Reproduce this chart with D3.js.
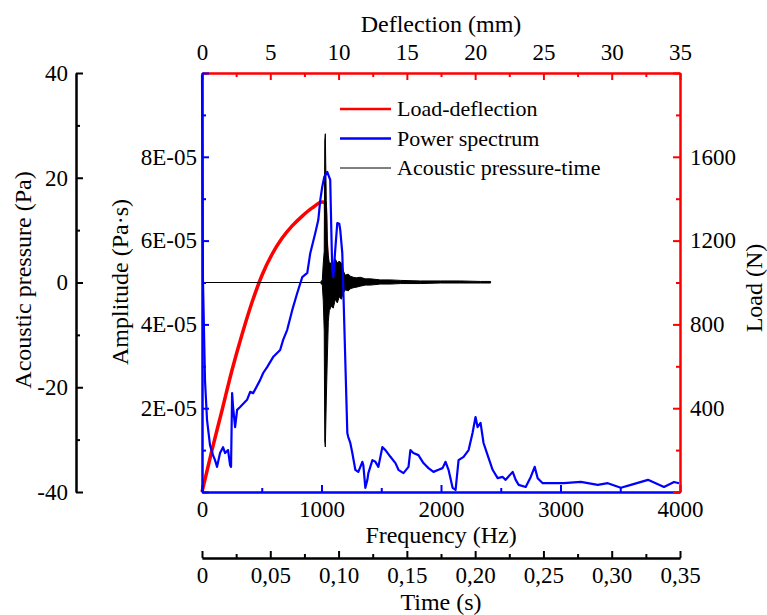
<!DOCTYPE html>
<meta charset="utf-8">
<style>
body {
    margin: 0px;
    background: white;
    overflow: hidden;
}
text {
  font-family: "Liberation Serif", "Times New Roman", serif;
  fill: black;
}
</style>
<body>
<script src="https://d3js.org/d3.v7.min.js"></script>
<script>
// load-deflection curve (mm, N)
var deflection = [0, 0.73, 1.47, 2.20, 2.94, 3.67, 4.40, 5.14, 5.87, 6.60, 7.34, 8.07, 8.81, 9.03, 9.10, 9.17, 9.32];
var load = [0, 200, 391, 582, 754, 907, 1036, 1136, 1212, 1270, 1317, 1356, 1384, 1380, 1203, 1069, 1050];

// power spectrum (Hz, Pa.s)
var frequency = [0, 8, 25, 42, 67, 92, 109, 126, 151, 176, 193, 218, 235, 243, 252, 260, 277, 294, 319, 377,
  403, 428, 486, 512, 545, 595, 654, 679, 713, 755, 797, 839, 881, 906, 948, 973, 990, 1006, 1023, 1048,
  1073, 1082, 1090, 1099, 1115, 1132, 1149, 1157, 1174, 1182, 1199, 1216, 1224, 1241, 1258, 1283, 1308, 1342, 1350, 1367,
  1384, 1392, 1426, 1451, 1476, 1509, 1535, 1577, 1619, 1644, 1686, 1728, 1744, 1769, 1811, 1853, 1895, 1937, 1979, 2013,
  2038, 2063, 2097, 2122, 2147, 2189, 2231, 2264, 2289, 2306, 2331, 2356, 2390, 2432, 2474, 2516, 2541, 2600, 2625, 2650,
  2709, 2751, 2784, 2809, 2851, 2893, 3027, 3170, 3312, 3396, 3505, 3589, 3732, 3866, 3950, 3992];
var amplitude = [9.95e-5, 5.06e-5, 2.67e-5, 1.72e-5, 1.12e-5, 0.88e-5, 0.76e-5, 0.60e-5, 0.93e-5, 1.07e-5, 0.93e-5, 1.00e-5, 0.64e-5, 0.60e-5, 2.36e-5, 2.03e-5, 1.55e-5, 1.96e-5, 2.03e-5, 2.20e-5,
  2.39e-5, 2.36e-5, 2.67e-5, 2.84e-5, 2.98e-5, 3.22e-5, 3.39e-5, 3.63e-5, 3.87e-5, 4.34e-5, 4.75e-5, 5.13e-5, 5.23e-5, 5.70e-5, 6.18e-5, 6.49e-5, 6.97e-5, 7.28e-5, 7.52e-5, 7.64e-5,
  7.45e-5, 6.25e-5, 5.30e-5, 5.13e-5, 5.78e-5, 6.42e-5, 6.40e-5, 6.25e-5, 5.70e-5, 4.89e-5, 3.15e-5, 1.41e-5, 1.31e-5, 1.17e-5, 0.93e-5, 0.53e-5, 0.48e-5, 0.72e-5, 0.64e-5, 0.10e-5,
  0.29e-5, 0.45e-5, 0.76e-5, 0.72e-5, 0.60e-5, 1.07e-5, 1.00e-5, 0.84e-5, 0.69e-5, 0.53e-5, 0.45e-5, 0.60e-5, 1.00e-5, 0.93e-5, 0.88e-5, 0.69e-5, 0.57e-5, 0.48e-5, 0.53e-5, 0.57e-5,
  0.72e-5, 0.53e-5, 0.10e-5, 0.05e-5, 0.76e-5, 0.84e-5, 1.00e-5, 1.41e-5, 1.79e-5, 1.55e-5, 1.65e-5, 1.17e-5, 0.88e-5, 0.53e-5, 0.33e-5, 0.36e-5, 0.29e-5, 0.48e-5, 0.29e-5, 0.17e-5,
  0.12e-5, 0.36e-5, 0.60e-5, 0.33e-5, 0.21e-5, 0.21e-5, 0.21e-5, 0.24e-5, 0.17e-5, 0.21e-5, 0.10e-5, 0.17e-5, 0.29e-5, 0.12e-5, 0.24e-5, 0.21e-5];

// acoustic pressure-time signal, upper and lower envelope of the oscillation (s, Pa)
var time = [0, 0.0866, 0.0881, 0.0888, 0.0895, 0.0899, 0.0903, 0.0910, 0.0917, 0.0925, 0.0932, 0.0947, 0.0961, 0.0976, 0.0991, 0.1005, 0.1020,
  0.1035, 0.1049, 0.1071, 0.1086, 0.1108, 0.1130, 0.1159, 0.1196, 0.1233, 0.1306, 0.1380, 0.1453, 0.1600, 0.1746, 0.1893, 0.2040, 0.2113];
var pressureHigh = [0, 0, 0.5, 3.7, 6.0, 27.0, 28.4, 15.6, 7.9, 5.1, 3.7, 3.7, 3.2, 4.5, 3.7, 4.1, 3.7,
  2.2, 1.4, 1.6, 1.2, 1.0, 0.9, 1.0, 0.7, 0.7, 0.5, 0.5, 0.4, 0.3, 0.3, 0.3, 0.2, 0.2];
var pressureLow = [0, 0, -0.5, -3.5, -9.3, -30.3, -31.4, -22.6, -15.0, -7.4, -5.4, -4.5, -4.9, -3.2, -3.9, -2.7, -3.2,
  -2.0, -1.4, -1.6, -1.2, -1.0, -0.9, -0.7, -0.5, -0.5, -0.3, -0.3, -0.2, -0.2, -0.1, -0.1, -0.1, -0.1];

var deflTicks = [0, 5, 10, 15, 20, 25, 30, 35];
var freqTicks = [0, 1000, 2000, 3000, 4000];
var timeTicks = [0, 0.05, 0.10, 0.15, 0.20, 0.25, 0.30, 0.35];
var ampTicks = [2e-5, 4e-5, 6e-5, 8e-5];
var loadTicks = [400, 800, 1200, 1600];
var pressureTicks = [-40, -20, 0, 20, 40];

var legendNames = ["Load-deflection", "Power spectrum", "Acoustic pressure-time"];
var legendColors = ["#ff0000", "#0000ff", "#000000"];

var width = 767, height = 615;
var plotLeft = 202, plotRight = 680, plotTop = 73, plotBottom = 492;

var svg = d3.select("body").append("svg")
    .attr("width", width)
    .attr("height", height);

var deflX = d3.scaleLinear().domain([0, 35]).range([plotLeft, plotRight]);
var freqX = d3.scaleLinear().domain([0, 4000]).range([plotLeft, plotRight]);
var timeX = d3.scaleLinear().domain([0, 0.35]).range([plotLeft, plotRight]);
var ampY = d3.scaleLinear().domain([0, 1e-4]).range([plotBottom, plotTop]);
var loadY = d3.scaleLinear().domain([0, 2000]).range([plotBottom, plotTop]);
var pressY = d3.scaleLinear().domain([-40, 40]).range([plotBottom, plotTop]);

function mids(t) {
  var m = [];
  for (var i = 0; i < t.length - 1; i++) m.push((t[i] + t[i + 1]) / 2);
  return m;
}

// draws an axis with labelled major ticks and short unlabelled minor ticks
function drawAxis(axisFn, scale, pos, major, fmt, color, pad) {
  var minor = mids(major);
  var g = svg.append("g").attr("transform", pos);
  g.call(axisFn(scale).tickValues(minor).tickFormat("").tickSizeInner(-4).tickSizeOuter(0));
  var g2 = svg.append("g").attr("transform", pos);
  g2.call(axisFn(scale).tickValues(major).tickFormat(fmt).tickSizeInner(-7).tickSizeOuter(0).tickPadding(pad));
  [g, g2].forEach(function(a) {
    a.selectAll("path, line").attr("stroke", color).attr("stroke-width", 2);
    a.selectAll("text")
      .attr("font-family", "Liberation Serif")
      .attr("font-size", 23)
      .attr("fill", "black");
  });
  return g2;
}

// plot lines first, axes on top
var loadLine = d3.line()
    .x(function(d, i) { return deflX(deflection[i]); })
    .y(function(d, i) { return loadY(load[i]); })
    .curve(d3.curveMonotoneX);
svg.append("path")
    .attr("d", loadLine(deflection))
    .attr("fill", "none")
    .attr("stroke", "#ff0000")
    .attr("stroke-width", 3.5);

var pressArea = d3.area()
    .x(function(d, i) { return timeX(time[i]); })
    .y0(function(d, i) { return pressY(pressureLow[i]); })
    .y1(function(d, i) { return pressY(pressureHigh[i]); });
svg.append("path")
    .attr("d", pressArea(time))
    .attr("fill", "black")
    .attr("stroke", "black")
    .attr("stroke-width", 1);

var specLine = d3.line()
    .x(function(d, i) { return freqX(frequency[i]); })
    .y(function(d, i) { return ampY(amplitude[i]); });
svg.append("path")
    .attr("d", specLine(frequency))
    .attr("fill", "none")
    .attr("stroke", "#0000ff")
    .attr("stroke-width", 2.2)
    .attr("stroke-linejoin", "round");

// axes
drawAxis(d3.axisTop, deflX, "translate(0," + plotTop + ")", deflTicks, d3.format("d"), "#ff0000", 13);
drawAxis(d3.axisBottom, freqX, "translate(0," + plotBottom + ")", freqTicks, d3.format("d"), "#0000ff", 9);
drawAxis(d3.axisBottom, timeX, "translate(0,558)", timeTicks,
  function(d) { return d === 0 ? "0" : d3.format(".2f")(d).replace(".", ","); }, "#000000", 9);
drawAxis(d3.axisLeft, ampY, "translate(" + plotLeft + ",0)", [0].concat(ampTicks).concat([1e-4]),
  function(d) { return (d === 0 || d > 9e-5) ? "" : Math.round(d * 1e5) + "E-05"; }, "#0000ff", 5);
drawAxis(d3.axisRight, loadY, "translate(" + plotRight + ",0)", [0].concat(loadTicks).concat([2000]),
  function(d) { return (d === 0 || d === 2000) ? "" : d; }, "#ff0000", 10);
drawAxis(d3.axisLeft, pressY, "translate(76,0)", pressureTicks,
  function(d) { return String(d); }, "#000000", 8);

// titles
function title(txt, x, y, rot) {
  svg.append("text")
    .attr("transform", "translate(" + x + "," + y + ")" + (rot ? " rotate(-90)" : ""))
    .attr("text-anchor", "middle")
    .attr("font-size", 24)
    .text(txt);
}
title("Deflection (mm)", 441, 32);
title("Frequency (Hz)", 441, 543);
title("Time (s)", 441, 610);
title("Acoustic pressure (Pa)", 31, 280, true);
title("Amplitude (Pa\u00b7s)", 128, 282, true);
title("Load (N)", 762, 288, true);

// legend
var legend = svg.append("g");
legendNames.forEach(function(name, i) {
  var y = 109 + i * 29.5;
  legend.append("line")
    .attr("x1", 340).attr("x2", 391)
    .attr("y1", y).attr("y2", y)
    .attr("stroke", legendColors[i])
    .attr("stroke-width", i === 2 ? 1 : 2.5);
  legend.append("text")
    .attr("x", 397).attr("y", y + 7)
    .attr("font-size", 22)
    .text(name);
});
</script>
</body>
</html>
